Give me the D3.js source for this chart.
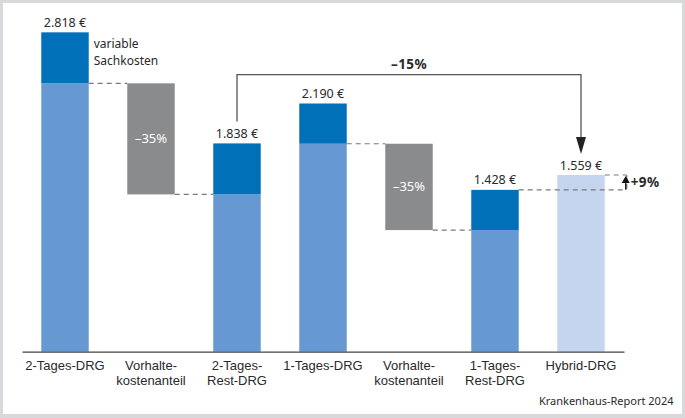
<!DOCTYPE html>
<html>
<head>
<meta charset="utf-8">
<script src="https://cdn.jsdelivr.net/npm/d3@7"></script>
<style>
  body { margin: 0; background: #fff; }
  svg { display: block; font-family: "Noto Sans", sans-serif; }
</style>
</head>
<body>
<svg width="685" height="418"></svg>
<script>
const categories = ["2-Tages-DRG", "Vorhaltekosten 1", "2-Tages-Rest-DRG", "1-Tages-DRG", "Vorhaltekosten 2", "1-Tages-Rest-DRG", "Hybrid-DRG"];
const tickLabels = [["2-Tages-DRG"], ["Vorhalte-", "kostenanteil"], ["2-Tages-", "Rest-DRG"], ["1-Tages-DRG"], ["Vorhalte-", "kostenanteil"], ["1-Tages-", "Rest-DRG"], ["Hybrid-DRG"]];
const totals = [2818, null, 1838, 2190, null, 1428, 1559];
const variableCosts = [450, null, 450, 355, null, 354, null];
const reductions = [null, 980, null, null, 762, null, null];
const reductionLabels = [null, "–35%", null, null, "–35%", null, null];
const annotationLines = ["variable", "Sachkosten"];

const svg = d3.select("svg");
const w = +svg.attr("width");
const h = +svg.attr("height");

const de = d3.formatLocale({ decimal: ",", thousands: ".", grouping: [3], currency: ["", " €"] });
const fmt = v => de.format(",")(v) + " €";

const darkBlue = "#0070b9";
const lightBlue = "#6699d2";
const grey = "#8a8b8d";
const hybrid = "#c6d5ef";
const ink = "#2a2a2a";

// frame
svg.append("rect").attr("width", w).attr("height", h).attr("fill", "#d8d9db");
svg.append("rect").attr("x", 3).attr("y", 3).attr("width", w - 6).attr("height", h - 7).attr("fill", "#fff");

const x = d3.scaleBand().domain(categories).range([22, 624]).paddingInner(0.448).paddingOuter(0.224);
const y = d3.scaleLinear().domain([0, 3000]).range([351.7, 11.7]);
const bw = x.bandwidth();

// build stacked pieces
const rows = categories.map((c, i) => ({ c, i, total: totals[i], variable: variableCosts[i], reduction: reductions[i] }));
let prevFixed = 0;
rows.forEach(r => {
  if (r.total != null && r.variable != null) { r.fixed = r.total - r.variable; prevFixed = r.fixed; }
  if (r.reduction != null) { r.from = prevFixed; r.to = prevFixed - r.reduction; }
});

const g = svg.append("g");

// fixed parts
g.selectAll(".fixed").data(rows.filter(r => r.fixed != null)).enter().append("rect")
  .attr("x", d => x(d.c)).attr("width", bw)
  .attr("y", d => y(d.fixed)).attr("height", d => y(0) - y(d.fixed))
  .attr("fill", lightBlue);

// variable parts
g.selectAll(".var").data(rows.filter(r => r.fixed != null)).enter().append("rect")
  .attr("x", d => x(d.c)).attr("width", bw)
  .attr("y", d => y(d.total)).attr("height", d => y(d.fixed) - y(d.total))
  .attr("fill", darkBlue);

// hybrid bar
g.selectAll(".hyb").data(rows.filter(r => r.total != null && r.variable == null)).enter().append("rect")
  .attr("x", d => x(d.c)).attr("width", bw)
  .attr("y", d => y(d.total)).attr("height", d => y(0) - y(d.total))
  .attr("fill", hybrid);

// reduction bars
g.selectAll(".red").data(rows.filter(r => r.reduction != null)).enter().append("rect")
  .attr("x", d => x(d.c)).attr("width", bw)
  .attr("y", d => y(d.from)).attr("height", d => y(d.to) - y(d.from))
  .attr("fill", grey);

g.selectAll(".redlab").data(rows.filter(r => r.reduction != null)).enter().append("text")
  .attr("x", d => x(d.c) + bw / 2).attr("y", d => (y(d.from) + y(d.to)) / 2 + 4.5)
  .attr("text-anchor", "middle").attr("fill", "#fff").attr("font-size", 13)
  .text(d => reductionLabels[d.i]);

// dashed connectors
const dash = g.append("g").attr("stroke", "#7a7a7a").attr("stroke-width", 1.2).attr("stroke-dasharray", "5,4").attr("fill", "none");
rows.filter(r => r.reduction != null).forEach(r => {
  const prev = categories[r.i - 1], next = categories[r.i + 1];
  dash.append("line").attr("x1", x(prev) + bw).attr("x2", x(r.c)).attr("y1", y(r.from)).attr("y2", y(r.from));
  dash.append("line").attr("x1", x(r.c) + bw).attr("x2", x(next)).attr("y1", y(r.to)).attr("y2", y(r.to));
});

// +9% comparison
const xEnd = x(categories[6]) + bw + 22;
dash.append("line").attr("x1", x(categories[5]) + bw).attr("x2", xEnd).attr("y1", y(totals[5])).attr("y2", y(totals[5]));
dash.append("line").attr("x1", x(categories[6]) + bw).attr("x2", xEnd).attr("y1", y(totals[6])).attr("y2", y(totals[6]));
dash.append("line").attr("x1", xEnd).attr("x2", xEnd).attr("y1", y(totals[6])).attr("y2", y(totals[5]));

const ax = xEnd - 1;
g.append("line").attr("x1", ax).attr("x2", ax).attr("y1", y(totals[5])).attr("y2", y(totals[6]) + 6)
  .attr("stroke", "#111").attr("stroke-width", 1.3);
g.append("path").attr("d", `M${ax - 4},${y(totals[6]) + 8}L${ax + 4},${y(totals[6]) + 8}L${ax},${y(totals[6]) + 1}Z`).attr("fill", "#111");
g.append("text").attr("x", ax + 5).attr("y", (y(totals[5]) + y(totals[6])) / 2 + 5)
  .attr("font-size", 13.5).attr("font-weight", "bold").attr("letter-spacing", 0.4).attr("fill", ink).text("+9%");

// -15% bracket
const bx1 = x(categories[2]) + bw / 2, bx2 = x(categories[6]) + bw / 2, by = 74.7;
g.append("path").attr("d", `M${bx1},${y(totals[2]) - 22}V${by}H${bx2}V${y(totals[6]) - 26}`)
  .attr("fill", "none").attr("stroke", "#555").attr("stroke-width", 1.3);
g.append("path").attr("d", `M${bx2 - 5},${y(totals[6]) - 38}L${bx2 + 5},${y(totals[6]) - 38}L${bx2},${y(totals[6]) - 21}Z`).attr("fill", "#222");
g.append("text").attr("x", (bx1 + bx2) / 2).attr("y", by - 5.5).attr("text-anchor", "middle")
  .attr("font-size", 13.5).attr("font-weight", "bold").attr("letter-spacing", 0.4).attr("fill", ink).text("–15%");

// value labels
g.selectAll(".val").data(rows.filter(r => r.total != null)).enter().append("text")
  .attr("x", d => x(d.c) + bw / 2).attr("y", d => y(d.total) - 5.5)
  .attr("text-anchor", "middle").attr("font-size", 12.5).attr("fill", ink)
  .text(d => fmt(d.total));

// annotation
annotationLines.forEach((line, k) => {
  g.append("text").attr("x", x(categories[0]) + bw + 5).attr("y", 48.2 + k * 16.5)
    .attr("font-size", 12).attr("fill", ink).text(line);
});

// x axis
const xAxis = svg.append("g").attr("transform", `translate(0,${y(0)})`)
  .call(d3.axisBottom(x).tickSize(0).tickFormat(""));
xAxis.select(".domain").attr("stroke", "#444").attr("stroke-width", 1.2);
xAxis.selectAll(".tick").each(function (d, i) {
  const t = d3.select(this).append("text").attr("fill", ink).attr("font-size", 13).attr("text-anchor", "middle");
  tickLabels[i].forEach((line, k) => t.append("tspan").attr("x", 0).attr("y", 18.3 + k * 14.8).text(line));
});

// source
svg.append("text").attr("x", 673.5).attr("y", 405).attr("text-anchor", "end")
  .attr("font-size", 11).attr("fill", ink).text("Krankenhaus-Report 2024");
</script>
</body>
</html>
